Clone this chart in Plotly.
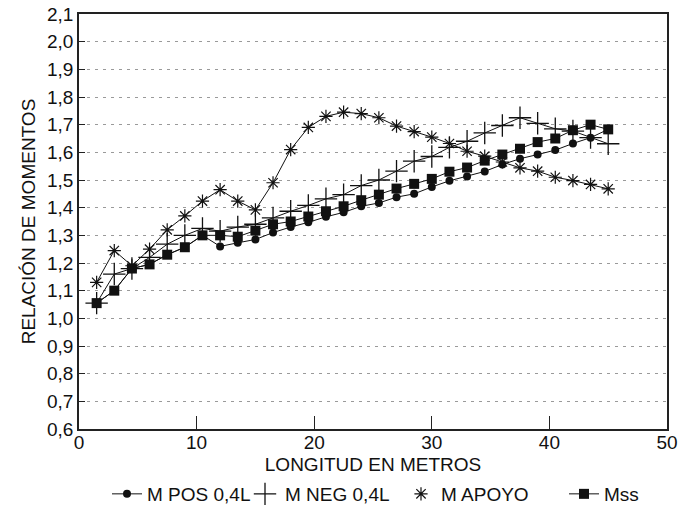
import plotly.graph_objects as go

x_len = [1.5, 3, 4.5, 6, 7.5, 9, 10.5, 12, 13.5, 15, 16.5, 18, 19.5, 21, 22.5,
         24, 25.5, 27, 28.5, 30, 31.5, 33, 34.5, 36, 37.5, 39, 40.5, 42, 43.5, 45]

m_pos = [1.055, 1.10, 1.18, 1.195, 1.23, 1.257, 1.30, 1.26, 1.273, 1.285,
         1.31, 1.33, 1.347, 1.367, 1.383, 1.405, 1.417, 1.438, 1.45, 1.475,
         1.497, 1.513, 1.531, 1.556, 1.577, 1.592, 1.608, 1.632, 1.653, 1.683]

m_neg = [1.055, 1.16, 1.18, 1.22, 1.268, 1.30, 1.325, 1.315, 1.33, 1.34,
         1.363, 1.387, 1.408, 1.432, 1.447, 1.48, 1.50, 1.532, 1.568, 1.585,
         1.618, 1.64, 1.67, 1.697, 1.725, 1.705, 1.685, 1.677, 1.653, 1.631]

m_apoyo = [1.13, 1.245, 1.19, 1.25, 1.32, 1.37, 1.424, 1.465, 1.424, 1.392,
           1.49, 1.61, 1.69, 1.73, 1.745, 1.74, 1.725, 1.695, 1.675, 1.655,
           1.632, 1.604, 1.586, 1.565, 1.544, 1.532, 1.51, 1.498, 1.484, 1.468]

m_ss = [1.055, 1.10, 1.18, 1.195, 1.23, 1.257, 1.30, 1.30, 1.295, 1.317,
        1.34, 1.35, 1.368, 1.387, 1.405, 1.427, 1.447, 1.469, 1.486, 1.504,
        1.53, 1.545, 1.57, 1.592, 1.613, 1.637, 1.65, 1.68, 1.70, 1.683]

y_ticks = [0.6, 0.7, 0.8, 0.9, 1.0, 1.1, 1.2, 1.3, 1.4, 1.5, 1.6, 1.7, 1.8, 1.9, 2.0, 2.1]
x_ticks = [0, 10, 20, 30, 40, 50]

FONT = "Liberation Sans, Arial, sans-serif"
BLACK = "#111111"

fig = go.Figure()

# POS: line + circle
fig.add_trace(go.Scatter(
    x=x_len, y=m_pos, name="M POS 0,4L", mode="lines+markers",
    line=dict(color=BLACK, width=1),
    marker=dict(symbol="circle", size=8, color=BLACK),
    legend="legend"))

# NEG: line (no legend) + plus markers (legend)
fig.add_trace(go.Scatter(
    x=x_len, y=m_neg, mode="lines", showlegend=False,
    line=dict(color=BLACK, width=1), hoverinfo="skip"))
fig.add_trace(go.Scatter(
    x=x_len, y=m_neg, name="M NEG 0,4L", mode="markers",
    marker=dict(symbol="cross-thin", size=16, color=BLACK,
                line=dict(color=BLACK, width=1.3)),
    legend="legend2"))

# APOYO: line (no legend) + asterisk markers (legend)
fig.add_trace(go.Scatter(
    x=x_len, y=m_apoyo, mode="lines", showlegend=False,
    line=dict(color=BLACK, width=1), hoverinfo="skip"))
fig.add_trace(go.Scatter(
    x=x_len, y=m_apoyo, name="M APOYO", mode="markers",
    marker=dict(symbol="asterisk", size=11, color=BLACK,
                line=dict(color=BLACK, width=1.2)),
    legend="legend3"))

# Mss: line + square
fig.add_trace(go.Scatter(
    x=x_len, y=m_ss, name="Mss", mode="lines+markers",
    line=dict(color=BLACK, width=1),
    marker=dict(symbol="square", size=10, color=BLACK),
    legend="legend4"))

W, H = 692, 510
leg_common = dict(orientation="h", xref="container", yref="container",
                  xanchor="left", yanchor="middle", bgcolor="rgba(0,0,0,0)",
                  font=dict(family=FONT, size=19, color=BLACK),
                  itemwidth=30, tracegroupgap=0)

fig.update_layout(
    width=W, height=H,
    margin=dict(l=79, r=25, t=14, b=81, autoexpand=False),
    paper_bgcolor="white", plot_bgcolor="white",
    separators=",.",
    font=dict(family=FONT, size=19, color=BLACK),
    legend=dict(x=107 / W, y=1 - 494 / H, **leg_common),
    legend2=dict(x=245 / W, y=1 - 494 / H, **leg_common),
    legend3=dict(x=401 / W, y=1 - 494 / H, **leg_common),
    legend4=dict(x=564 / W, y=1 - 494 / H, **leg_common),
    xaxis=dict(
        range=[0, 50], tickvals=x_ticks, ticks="inside", ticklen=13,
        tickcolor="#222222", showgrid=False, zeroline=False, automargin=False,
        ticklabelstandoff=-5,
        showline=True, linecolor="#222222", linewidth=1.5, mirror=True,
        tickfont=dict(family=FONT, size=19, color=BLACK),
        title=dict(text="LONGITUD EN METROS", standoff=10,
                   font=dict(family=FONT, size=19, color=BLACK)),
    ),
    yaxis=dict(
        range=[0.6, 2.1], tickvals=y_ticks, tickformat=".1f",
        ticks="inside", ticklen=6, tickcolor="#222222", automargin=False,
        showgrid=True, gridcolor="#9a9a9a", gridwidth=1, griddash="3px,5px",
        zeroline=False, showline=True, linecolor="#222222", linewidth=1.5,
        mirror=True,
        tickfont=dict(family=FONT, size=19, color=BLACK),
        title=dict(text="RELACIÓN DE MOMENTOS", standoff=6,
                   font=dict(family=FONT, size=19, color=BLACK)),
    ),
    showlegend=True,
)

fig.write_html("out.html")
